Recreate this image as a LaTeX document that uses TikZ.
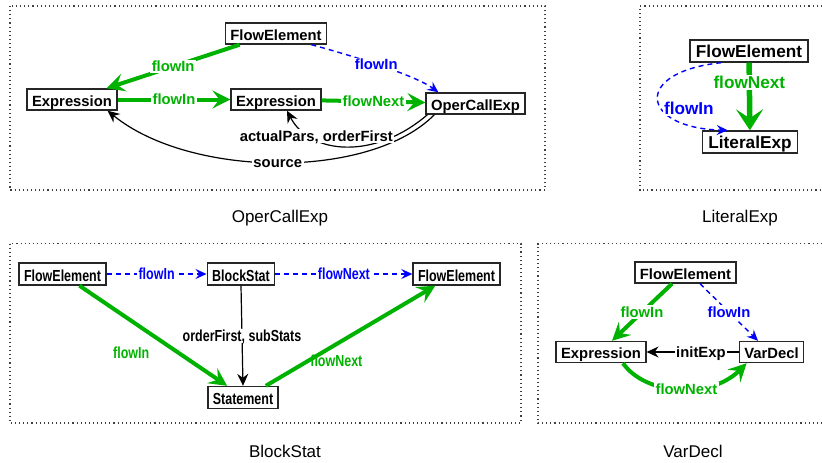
\documentclass[tikz,border=0pt]{standalone}
\usepackage{fontspec}
\setmainfont{Liberation Sans}
\newfontfamily\narrowsans[FakeStretch=0.78]{Liberation Sans}
\usetikzlibrary{arrows.meta}

\definecolor{flowgreen}{RGB}{0,178,0}
\definecolor{flowblue}{RGB}{0,0,255}

% type faces of the four diagrams
\newcommand\fontA{\fontsize{14.8}{17}\selectfont\bfseries}
\newcommand\fontB{\fontsize{17.2}{20}\selectfont\bfseries}
\newcommand\fontC{\narrowsans\fontsize{16}{19}\selectfont\bfseries}
\newcommand\capfont{\fontsize{17}{20}\selectfont}

\tikzset{
  box/.style={draw=black!85, line width=1.4pt, fill=white, inner xsep=5pt,
    inner ysep=1.5pt, text height=15.5pt, text depth=2.5pt, font=\fontA},
  boxB/.style={box, font=\fontB, inner xsep=6pt, text height=15.8pt, text depth=3.2pt},
  boxC/.style={box, font=\fontC, text height=16.5pt, text depth=2.5pt},
  lab/.style={font=\fontA, inner sep=1.5pt, text height=10.6pt, text depth=0pt, fill=white},
  labB/.style={lab, font=\fontB, text height=12.3pt},
  labC/.style={lab, font=\fontC, text height=11.5pt},
  gflow/.style={draw=flowgreen, line width=4pt,
    -{Stealth[length=18pt,width=18pt,inset=7pt]}},
  gflowB/.style={draw=flowgreen, line width=5.5pt,
    -{Stealth[length=21pt,width=27pt,inset=9pt]}},
  bflow/.style={draw=flowblue, line width=1.4pt, dash pattern=on 5pt off 4pt,
    -{Stealth[length=11pt,width=10pt,inset=4pt]}},
  kflow/.style={draw=black, line width=1.2pt,
    -{Stealth[length=12pt,width=11pt,inset=4pt]}},
  frame/.style={draw=black!75, line width=1.1pt, dash pattern=on 1.1pt off 3pt},
  caption/.style={font=\capfont, inner sep=0pt, text height=12.2pt, text depth=0pt},
}

\begin{document}
\begin{tikzpicture}[x=1pt,y=-1pt]
\useasboundingbox (0,0) rectangle (822,463);

% ---------- OperCallExp ----------
\draw[frame] (10,6) rectangle (545,190);
\node[box] (fe1) at (276,33.5) {FlowElement};
\node[box] (ex1) at (72,99.5) {Expression};
\node[box] (ex2) at (276,99.5) {Expression};
\node[box] (oce) at (475.5,103.5) {OperCallExp};

\draw[gflow] ([xshift=15pt]fe1.south west) -- node[lab,text=flowgreen]{flowIn} ([xshift=-11pt]ex1.north east);
\draw[gflow] (ex1) -- node[lab,text=flowgreen]{flowIn} (ex2);
\draw[gflow] (ex2) -- node[lab,text=flowgreen]{flowNext} (oce);
\draw[bflow] ([xshift=-16pt]fe1.south east) .. controls (350,55) and (415,75) ..
  node[lab,text=flowblue,pos=0.47]{flowIn} ([xshift=13pt]oce.north west);
\draw[kflow] ([xshift=9pt]oce.south west) .. controls (370,180) and (190,178) ..
  node[lab,pos=0.5]{source} ([xshift=-10pt]ex1.south east);
\draw[kflow] ([xshift=2pt]oce.south west) .. controls (375,160) and (310,155) ..
  node[lab,pos=0.2,anchor=east]{actualPars, orderFirst} ([xshift=11pt]ex2.south);

\node[caption] (c1) at (280,216) {OperCallExp};

% ---------- LiteralExp ----------
\draw[frame] (830,6) -- (640,6) -- (640,190) -- (830,190);
\node[boxB] (fe2) at (749,51) {FlowElement};
\node[boxB] (lit) at (750,142) {LiteralExp};

\draw[gflowB] (fe2) -- node[labB,text=flowgreen,pos=0.29]{flowNext} (lit);
\draw[bflow] ([xshift=32pt]fe2.south west) .. controls (632,72) and (640,128) ..
  node[labB,text=flowblue,pos=0.6,anchor=west]{flowIn} ([xshift=26pt]lit.north west);

\node[caption] (c2) at (740,216) {LiteralExp};

% ---------- BlockStat ----------
\draw[frame] (10,243.5) rectangle (521,423);
\node[boxC] (fe3a) at (62.5,274) {FlowElement};
\node[boxC] (bs) at (241,274) {BlockStat};
\node[boxC] (fe3b) at (456.5,274) {FlowElement};
\node[boxC] (st) at (243,397.5) {Statement};

\draw[bflow] (fe3a) -- node[labC,text=flowblue]{flowIn} (bs);
\draw[bflow] (bs) -- node[labC,text=flowblue]{flowNext} (fe3b);
\draw[kflow] (bs.south) -- node[labC]{orderFirst, subStats} (st.north);
\draw[gflow] ([xshift=17pt]fe3a.south) --
  node[labC,text=flowgreen,fill=none,pos=0.665,left=25pt]{flowIn} ([xshift=20pt]st.north west);
\draw[gflow] ([xshift=-13pt]st.north east) --
  node[labC,text=flowgreen,fill=none,pos=0.416,yshift=-16.5pt]{flowNext} ([xshift=23pt]fe3b.south west);

\node[caption] (c3) at (285,451) {BlockStat};

% ---------- VarDecl ----------
\draw[frame] (830,243.5) -- (538,243.5) -- (538,423) -- (830,423);
\node[box] (fe4) at (685.5,272.5) {FlowElement};
\node[box] (ex4) at (601,352) {Expression};
\node[box] (vd) at (771.5,352) {VarDecl};

\draw[gflow] ([xshift=-13.5pt]fe4.south) -- node[lab,text=flowgreen]{flowIn} ([xshift=11pt]ex4.north);
\draw[bflow] ([xshift=14.5pt]fe4.south) -- node[lab,text=flowblue]{flowIn} ([xshift=-13.5pt]vd.north);
\draw[kflow] (vd) -- node[lab,pos=0.41]{initExp} (ex4);
\draw[gflow] ([xshift=22pt]ex4.south) .. controls (645,395) and (710,400) ..
  node[lab,text=flowgreen,pos=0.55]{flowNext} ([xshift=8pt]vd.south west);

\node[caption] (c4) at (693,451) {VarDecl};
\end{tikzpicture}
\end{document}
